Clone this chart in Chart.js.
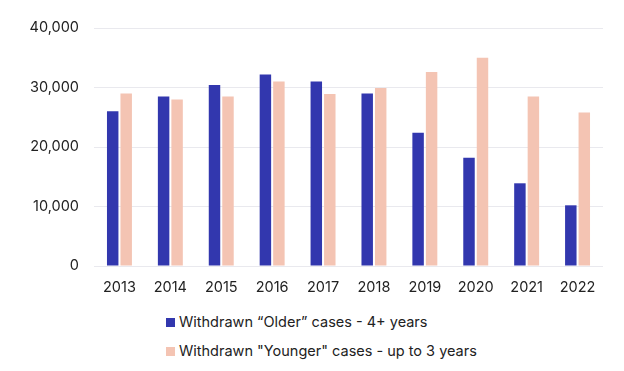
<!DOCTYPE html>
<html>
<head>
<meta charset="utf-8">
<script src="https://cdn.jsdelivr.net/npm/chart.js@4"></script>
<style>
  body { margin: 0; background: #fff; }
  #wrap { position: relative; width: 624px; height: 371px; }
  #legend { position: absolute; left: 166px; top: 312px; font-family: Inter, "Noto Sans", sans-serif; font-size: 14.5px; color: #222; }
  #legend div { height: 20px; line-height: 20px; margin-bottom: 9px; white-space: nowrap; }
  #legend span { display: inline-block; width: 9px; height: 9px; margin-right: 4px; vertical-align: 0px; }
</style>
</head>
<body>
<div id="wrap">
  <canvas id="chart" width="624" height="300"></canvas>
  <div id="legend"></div>
</div>
<script>
// data
const years = ['2013', '2014', '2015', '2016', '2017', '2018', '2019', '2020', '2021', '2022'];
const olderCases = [26000, 28500, 30400, 32200, 31000, 29000, 22400, 18200, 13900, 10200];
const youngerCases = [29000, 28000, 28500, 31000, 28900, 29900, 32600, 35000, 28500, 25800];
const seriesNames = ['Withdrawn \u201cOlder\u201d cases - 4+ years', 'Withdrawn "Younger" cases - up to 3 years'];
const seriesColors = ['#3237ae', '#f4c4b3'];

const font = { family: 'Inter, "Noto Sans", sans-serif', size: 14.5 };

const ctx = document.getElementById('chart');
new Chart(ctx, {
    type: 'bar',
    data: {
        labels: years,
        datasets: [
            { label: seriesNames[0], data: olderCases, backgroundColor: seriesColors[0] },
            { label: seriesNames[1], data: youngerCases, backgroundColor: seriesColors[1] }
        ]
    },
    options: {
        responsive: false,
        animation: false,
        categoryPercentage: 0.53,
        barPercentage: 0.85,
        layout: { padding: { top: 28, right: 21, left: 0, bottom: 0 } },
        plugins: {
            legend: { display: false },
            tooltip: { enabled: false }
        },
        scales: {
            x: {
                grid: { display: false, drawTicks: false },
                border: { display: false },
                ticks: { color: '#222', font: font, padding: 13 },
                afterFit: s => { s.height = 34; }
            },
            y: {
                min: 0,
                max: 40000,
                grid: { color: '#e9e9ee', lineWidth: 1, drawTicks: false },
                border: { display: false },
                ticks: {
                    stepSize: 10000,
                    color: '#222',
                    font: font,
                    padding: 15,
                    callback: v => v.toLocaleString('en-US')
                },
                afterFit: s => { s.width = 94; }
            }
        }
    }
});

// legend below the plot, two rows starting at the same x
const legend = document.getElementById('legend');
seriesNames.forEach((name, i) => {
    const row = document.createElement('div');
    const box = document.createElement('span');
    box.style.background = seriesColors[i];
    row.appendChild(box);
    row.appendChild(document.createTextNode(name));
    legend.appendChild(row);
});
</script>
</body>
</html>
